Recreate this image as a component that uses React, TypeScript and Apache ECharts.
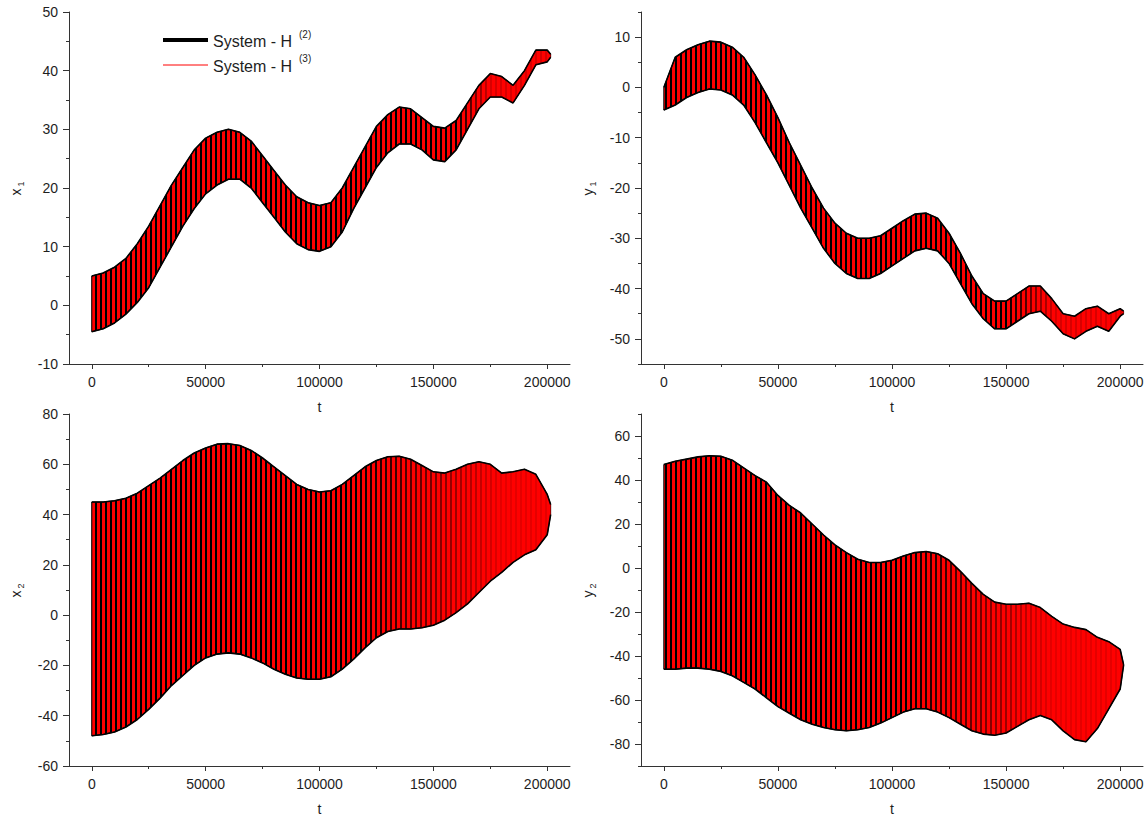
import React, { useEffect, useRef } from 'react';
import * as echarts from 'echarts';

// sample times along t (read-off positions of the envelope)
const T = [0, 5000, 10000, 15000, 20000, 25000, 30000, 35000, 40000, 45000, 50000, 55000, 60000, 65000, 70000, 75000, 80000, 85000, 90000, 95000, 100000, 105000, 110000, 115000, 120000, 125000, 130000, 135000, 140000, 145000, 150000, 155000, 160000, 165000, 170000, 175000, 180000, 185000, 190000, 195000, 200000, 201500];

// x1 envelope (upper / lower extremes of the fast oscillation)
const X1_UPPER = [5, 5.5, 6.5, 8, 10.5, 13.5, 17, 20.5, 23.5, 26.5, 28.5, 29.5, 30, 29.5, 28, 25.5, 23, 20.5, 18.5, 17.5, 17, 17.5, 20, 23.5, 27, 30.5, 32.5, 33.8, 33.5, 32, 30.5, 30.2, 31.5, 34.5, 37.5, 39.5, 39, 37.5, 40, 43.5, 43.5, 42.8];
const X1_LOWER = [-4.5, -4, -3, -1.5, 0.5, 3, 6.5, 10, 13.5, 16.5, 19, 20.5, 21.5, 21.5, 20, 17.5, 15, 12.5, 10.5, 9.5, 9.2, 10, 12.5, 16.5, 20, 23.5, 26, 27.5, 27.5, 26.5, 24.8, 24.5, 26.5, 30, 33.5, 35.5, 35.5, 34.5, 37.5, 41, 41.5, 42.3];

// y1 envelope
const Y1_UPPER = [0, 6, 7.5, 8.5, 9.2, 9, 8, 6, 2.5, -1.5, -6, -11, -15.5, -20, -24, -27, -29, -30, -30, -29.5, -28, -26.5, -25.2, -25, -26, -29, -33, -37.5, -41, -42.5, -42.5, -41, -39.5, -39.5, -42, -45, -45.5, -44, -43.5, -45, -44, -44.5];
const Y1_LOWER = [-4.5, -3.5, -2, -1, -0.3, -0.5, -1.5, -3.5, -7, -11, -15, -19.5, -24, -28, -32, -35, -37, -38, -38, -37, -35.5, -34, -32.5, -32, -32.5, -35, -39, -43, -46, -48, -48, -46.5, -45, -44.5, -46.5, -49, -50, -48.5, -47.5, -48.5, -45.5, -45];

// x2 envelope
const X2_UPPER = [45, 45, 45.5, 46.5, 48.5, 51.5, 54.5, 58, 61.5, 64.5, 66.5, 68, 68.2, 67.5, 65.5, 62.5, 59, 55.5, 52, 50, 49, 49.5, 52, 55.5, 59, 61.5, 63, 63.2, 62, 59.5, 57, 56.5, 58, 60, 61, 60, 56.5, 57, 58, 56, 48, 44];
const X2_LOWER = [-48, -47.5, -46.5, -44.5, -41.5, -37.5, -33, -28, -24, -20, -17, -15.5, -15, -15.5, -17, -19, -21.5, -23.5, -25, -25.5, -25.5, -24.5, -21.5, -17.5, -13, -9, -6.5, -5.5, -5.5, -5, -4, -2, 1, 4.5, 9, 13.5, 17, 21, 24, 26, 32, 40];

// y2 envelope
const Y2_UPPER = [47, 48.5, 49.5, 50.5, 51, 50.8, 49, 45.5, 42, 39, 33, 28.5, 25, 20, 15, 10.5, 7, 4, 2.5, 2.5, 3.5, 5.5, 7, 7.5, 6.5, 3.5, -1.5, -7, -12, -15.5, -16.5, -16.5, -16, -18, -22, -25.5, -27, -28, -31.5, -33.5, -37, -44];
const Y2_LOWER = [-46, -46, -45.5, -45.5, -46, -47, -49, -52, -55, -59, -63, -66, -69, -71, -72.5, -73.5, -74, -73.5, -72.5, -70.5, -68, -65.5, -64, -64, -65.5, -68, -71, -74, -75.5, -76, -75, -72, -69, -67, -69, -74, -78, -79, -73, -64, -55, -44];

// axis ticks
const T_TICKS = [0, 50000, 100000, 150000, 200000];
const T_MINOR = [25000, 75000, 125000, 175000];
const X1_TICKS = [-10, 0, 10, 20, 30, 40, 50];
const X1_MINOR = [-5, 5, 15, 25, 35, 45];
const Y1_TICKS = [-50, -40, -30, -20, -10, 0, 10];
const Y1_MINOR = [-55, -45, -35, -25, -15, -5, 5, 15];
const X2_TICKS = [-60, -40, -20, 0, 20, 40, 60, 80];
const X2_MINOR = [-50, -30, -10, 10, 30, 50, 70];
const Y2_TICKS = [-80, -60, -40, -20, 0, 20, 40, 60];
const Y2_MINOR = [-90, -70, -50, -30, -10, 10, 30, 50, 70];

const FONT = '"Liberation Sans", Arial, sans-serif';
const TEXT = '#1e1e1e';
const AXIS = '#333333';

function makeStripes(period: number, black: number) {
  const cv = document.createElement('canvas');
  cv.width = period;
  cv.height = 4;
  const ctx = cv.getContext('2d')!;
  ctx.clearRect(0, 0, period, 4);
  ctx.fillStyle = '#000000';
  ctx.fillRect(0, 0, black, 4);
  return { image: cv, repeat: 'repeat', imageWidth: period, imageHeight: 4 } as any;
}

export default function App() {
  const ref = useRef<HTMLDivElement>(null);
  useEffect(() => {
    const chart = echarts.init(ref.current!, null, { renderer: 'svg' });
    const stripes = makeStripes(5, 2);

    const panels = [
      { upper: X1_UPPER, lower: X1_LOWER, min: -10, max: 50, ticks: X1_TICKS, minor: X1_MINOR, v: 'x', sub: '1', left: 69, top: 12, width: 501, fadeFrom: 160000, fadeTo: 175000, fadeAlpha: 0.85 },
      { upper: Y1_UPPER, lower: Y1_LOWER, min: -55, max: 15, ticks: Y1_TICKS, minor: Y1_MINOR, v: 'y', sub: '1', left: 641, top: 12, width: 502, fadeFrom: 150000, fadeTo: 172000, fadeAlpha: 0.85 },
      { upper: X2_UPPER, lower: X2_LOWER, min: -60, max: 80, ticks: X2_TICKS, minor: X2_MINOR, v: 'x', sub: '2', left: 69, top: 414, width: 501, fadeFrom: 115000, fadeTo: 180000, fadeAlpha: 0.9 },
      { upper: Y2_UPPER, lower: Y2_LOWER, min: -90, max: 70, ticks: Y2_TICKS, minor: Y2_MINOR, v: 'y', sub: '2', left: 641, top: 414, width: 502, fadeFrom: 105000, fadeTo: 170000, fadeAlpha: 0.9 },
    ];

    const grid: any[] = [];
    const xAxis: any[] = [];
    const yAxis: any[] = [];
    const series: any[] = [];
    const graphic: any[] = [];
    const fmt = (v: number) => String(v);

    panels.forEach((p, i) => {
      grid.push({ left: p.left, top: p.top, width: p.width, height: 352, containLabel: false });
      const labelStyle = { color: TEXT, fontSize: 14, fontFamily: FONT };
      xAxis.push({
        type: 'value', gridIndex: i, position: 'bottom', min: -10000, max: 210000,
        axisLine: { show: true, onZero: false, lineStyle: { color: AXIS, width: 1 } },
        axisTick: { show: true, customValues: T_TICKS, length: 5, lineStyle: { color: AXIS } },
        axisLabel: { show: true, customValues: T_TICKS, margin: 11, formatter: fmt, ...labelStyle },
        splitLine: { show: false },
        name: 't', nameLocation: 'middle', nameGap: 36,
        nameTextStyle: { color: TEXT, fontSize: 14, fontFamily: FONT },
      });
      xAxis.push({
        type: 'value', gridIndex: i, position: 'bottom', min: -10000, max: 210000,
        axisLine: { show: false, onZero: false },
        axisTick: { show: true, customValues: T_MINOR, length: 3, lineStyle: { color: AXIS } },
        axisLabel: { show: false },
        splitLine: { show: false },
      });
      yAxis.push({
        type: 'value', gridIndex: i, position: 'left', min: p.min, max: p.max,
        axisLine: { show: true, onZero: false, lineStyle: { color: AXIS, width: 1 } },
        axisTick: { show: true, customValues: p.ticks, length: 6, lineStyle: { color: AXIS } },
        axisLabel: { show: true, customValues: p.ticks, margin: 11, formatter: fmt, ...labelStyle },
        splitLine: { show: false },
      });
      yAxis.push({
        type: 'value', gridIndex: i, position: 'left', min: p.min, max: p.max,
        axisLine: { show: false, onZero: false },
        axisTick: { show: true, customValues: p.minor, length: 3, lineStyle: { color: AXIS } },
        axisLabel: { show: false },
        splitLine: { show: false },
      });

      // y axis name (variable with subscript)
      const cy = p.top + 176;
      const nx = p.left - 53;
      graphic.push({ type: 'text', x: nx, y: cy + 4, rotation: Math.PI / 2,
        style: { text: p.v, fontSize: 14, fontFamily: FONT, fill: TEXT, align: 'center', verticalAlign: 'middle' } });
      graphic.push({ type: 'text', x: nx + 5, y: cy - 4, rotation: Math.PI / 2,
        style: { text: p.sub, fontSize: 9, fontFamily: FONT, fill: TEXT, align: 'center', verticalAlign: 'middle' } });

      const data = T.map((t, k) => [t, p.lower[k], p.upper[k]]);
      series.push({
        type: 'custom', name: 'System - H (3)', xAxisIndex: 2 * i, yAxisIndex: 2 * i,
        data, encode: { x: 0, y: [1, 2] }, silent: true,
        renderItem: (params: any, api: any) => {
          if (params.dataIndex !== 0) return null;
          const topPts = T.map((t, k) => api.coord([t, p.upper[k]]));
          const botPts = T.map((t, k) => api.coord([t, p.lower[k]])).reverse();
          const pts = topPts.concat(botPts);
          const xa = api.coord([p.fadeFrom, 0])[0];
          const xb = api.coord([p.fadeTo, 0])[0];
          const a = p.fadeAlpha;
          const fade = new echarts.graphic.LinearGradient(xa, 0, xb, 0, [
            { offset: 0, color: 'rgba(255,0,0,0)' },
            { offset: 1, color: `rgba(255,0,0,${a})` },
          ], true);
          return {
            type: 'group',
            children: [
              { type: 'polygon', shape: { points: pts }, style: { fill: '#ff0000', stroke: '#000', lineWidth: 1 } },
              { type: 'polygon', shape: { points: pts }, style: { fill: stripes, stroke: null } },
              { type: 'polygon', shape: { points: pts }, style: { fill: fade, stroke: null } },
            ],
          };
        },
      });
      series.push({
        type: 'line', name: 'System - H (2)', xAxisIndex: 2 * i, yAxisIndex: 2 * i,
        data: T.map((t, k) => [t, p.upper[k]]), showSymbol: false, symbol: 'none',
        lineStyle: { color: '#000', width: 1.6 }, silent: true,
      });
      series.push({
        type: 'line', name: 'System - H (2)', xAxisIndex: 2 * i, yAxisIndex: 2 * i,
        data: T.map((t, k) => [t, p.lower[k]]), showSymbol: false, symbol: 'none',
        lineStyle: { color: '#000', width: 1.6 }, silent: true,
      });
    });

    const legendFont = { fontSize: 16, fontFamily: FONT, fill: TEXT };
    graphic.push(
      { type: 'line', shape: { x1: 163, y1: 40, x2: 208, y2: 40 }, style: { stroke: '#000', lineWidth: 4 } },
      { type: 'text', x: 213, y: 41, style: { text: 'System - H', ...legendFont, verticalAlign: 'middle' } },
      { type: 'text', x: 299, y: 34, style: { text: '(2)', fontSize: 10, fontFamily: FONT, fill: TEXT, verticalAlign: 'middle' } },
      { type: 'line', shape: { x1: 163, y1: 65, x2: 208, y2: 65 }, style: { stroke: '#ff0000', lineWidth: 1 } },
      { type: 'text', x: 213, y: 66, style: { text: 'System - H', ...legendFont, verticalAlign: 'middle' } },
      { type: 'text', x: 299, y: 58, style: { text: '(3)', fontSize: 10, fontFamily: FONT, fill: TEXT, verticalAlign: 'middle' } },
    );

    chart.setOption({
      animation: false,
      backgroundColor: '#ffffff',
      grid, xAxis, yAxis, series, graphic,
    });
    return () => chart.dispose();
  }, []);
  return <div ref={ref} style={{ position: 'absolute', left: 0, top: 0, width: 1147, height: 823 }} />;
}
